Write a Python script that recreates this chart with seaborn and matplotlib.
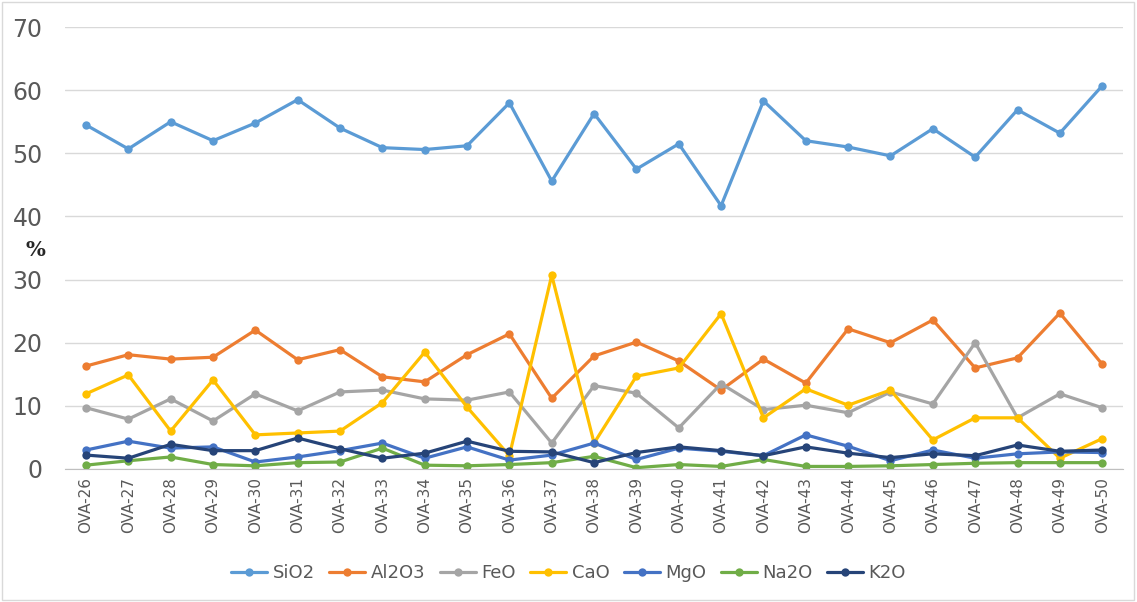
import pandas as pd
import matplotlib.pyplot as plt
import seaborn as sns

# Data
samples = ["OVA-%d" % i for i in range(26, 51)]

sio2 = [54.5, 50.7, 55.0, 52.0, 54.8, 58.5, 54.0, 50.9, 50.6, 51.2, 58.0, 45.6, 56.3,
        47.5, 51.5, 41.7, 58.3, 52.0, 51.0, 49.6, 53.9, 49.4, 56.9, 53.2, 60.7]
al2o3 = [16.3, 18.1, 17.4, 17.7, 22.0, 17.3, 18.9, 14.6, 13.8, 18.1, 21.4, 11.2, 17.9,
         20.1, 17.1, 12.5, 17.4, 13.6, 22.2, 20.0, 23.6, 16.0, 17.6, 24.7, 16.6]
feo = [9.7, 7.9, 11.1, 7.6, 11.9, 9.2, 12.2, 12.5, 11.1, 10.9, 12.2, 4.1, 13.2,
       12.0, 6.5, 13.5, 9.4, 10.1, 8.9, 12.2, 10.3, 20.0, 8.1, 11.9, 9.7]
cao = [11.9, 14.9, 6.0, 14.1, 5.4, 5.7, 6.0, 10.5, 18.5, 9.8, 2.1, 30.7, 4.1,
       14.7, 16.0, 24.6, 8.1, 12.7, 10.1, 12.5, 4.6, 8.1, 8.1, 1.7, 4.8]
mgo = [3.0, 4.4, 3.3, 3.5, 1.1, 1.9, 2.9, 4.1, 1.7, 3.5, 1.4, 2.2, 4.1,
       1.5, 3.3, 2.8, 2.1, 5.4, 3.6, 1.3, 3.0, 1.7, 2.4, 2.7, 2.6]
na2o = [0.6, 1.3, 1.9, 0.7, 0.5, 1.0, 1.1, 3.3, 0.6, 0.5, 0.7, 1.0, 2.0,
        0.2, 0.7, 0.4, 1.5, 0.4, 0.4, 0.5, 0.7, 0.9, 1.0, 1.0, 1.0]
k2o = [2.2, 1.7, 3.9, 2.9, 2.9, 4.9, 3.2, 1.7, 2.5, 4.4, 2.8, 2.7, 1.0,
       2.6, 3.5, 2.9, 2.1, 3.5, 2.5, 1.8, 2.4, 2.1, 3.8, 2.8, 3.0]

oxides = ["SiO2", "Al2O3", "FeO", "CaO", "MgO", "Na2O", "K2O"]
colors = ["#5B9BD5", "#ED7D31", "#A5A5A5", "#FFC000", "#4472C4", "#70AD47", "#264478"]

wide = pd.DataFrame({"Sample": samples, "SiO2": sio2, "Al2O3": al2o3, "FeO": feo,
                     "CaO": cao, "MgO": mgo, "Na2O": na2o, "K2O": k2o})
df = wide.melt(id_vars="Sample", var_name="Oxide", value_name="Value")

sns.set_style("white")
fig = plt.figure(figsize=(11.37, 6.02), dpi=100)
ax = fig.add_axes([0.057, 0.221, 0.931, 0.734])

sns.lineplot(data=df, x="Sample", y="Value", hue="Oxide", hue_order=oxides,
             palette=colors, marker="o", markersize=6, markeredgewidth=0,
             linewidth=2.3, ax=ax, sort=False)

ax.set_xlim(-0.5, len(samples) - 0.5)
ax.set_ylim(0, 70)
ax.set_yticks(range(0, 71, 10))
ax.grid(axis="y", color="#D9D9D9", linewidth=1)
ax.set_axisbelow(True)
for s in ["left", "right", "top"]:
    ax.spines[s].set_visible(False)
ax.spines["bottom"].set_color("#BFBFBF")

ax.tick_params(axis="y", labelsize=17, labelcolor="#595959", length=0, pad=16)
ax.tick_params(axis="x", labelsize=11, labelcolor="#595959", rotation=90, length=0, pad=6)
ax.set_xlabel("")
ax.set_ylabel("")

fig.text(0.031, 0.585, "%", fontsize=15, fontweight="bold", family="DejaVu Serif",
         ha="center", va="center")

handles, labels = ax.get_legend_handles_labels()
ax.get_legend().remove()
fig.legend(handles, labels, loc="center", bbox_to_anchor=(0.5, 0.048), ncol=7,
           frameon=False, fontsize=13, labelcolor="#595959", handlelength=2.0,
           columnspacing=0.8, handletextpad=0.3)

# figure border
fig.patches.append(plt.Rectangle((0.002, 0.003), 0.995, 0.993, transform=fig.transFigure,
                                 fill=False, edgecolor="#D9D9D9", linewidth=1))

plt.savefig("out.png", dpi=100)
